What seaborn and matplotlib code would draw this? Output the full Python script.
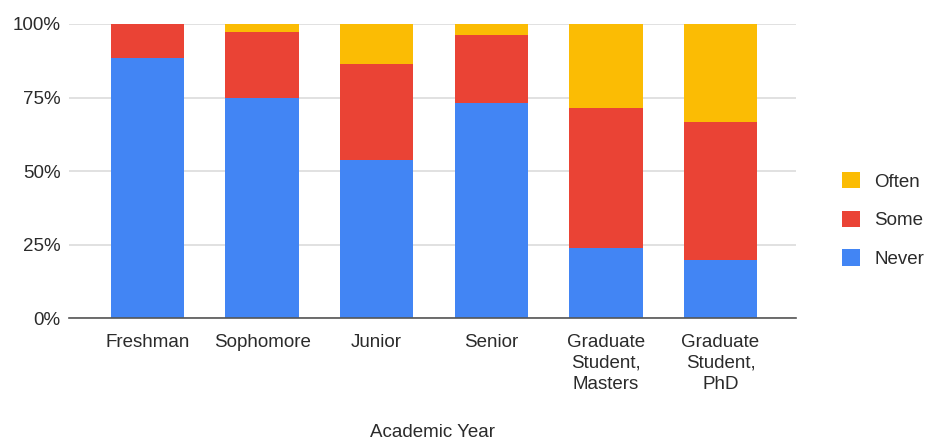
import matplotlib
matplotlib.use("Agg")
import matplotlib.pyplot as plt
from matplotlib.patches import Patch
import numpy as np
import pandas as pd
import seaborn as sns

# Share of respondents (%) per academic year
years = ["Freshman", "Sophomore", "Junior", "Senior",
         "Graduate\nStudent,\nMasters", "Graduate\nStudent,\nPhD"]
never = [88.5, 75.0, 53.8, 73.1, 23.8, 20.0]
some = [11.5, 22.2, 32.7, 23.1, 47.6, 46.7]
often = [0.0, 2.8, 13.5, 3.8, 28.6, 33.3]

series = ["Never", "Some", "Often"]
colors = {"Never": "#4285F4", "Some": "#EA4335", "Often": "#FBBC04"}

sns.set_theme(style="white")
plt.rcParams["font.family"] = ["Liberation Sans", "DejaVu Sans"]

FS = 13.5
TXT = "#2b2b2b"

df = pd.DataFrame({"year": years, "Never": never, "Some": some, "Often": often})
# cumulative tops for stacking
df["top_Never"] = df["Never"]
df["top_Some"] = df["Never"] + df["Some"]
df["top_Often"] = df["top_Some"] + df["Often"]

fig = plt.figure(figsize=(9.25, 4.41), dpi=100)
ax = fig.add_axes([0.0746, 0.278, 0.786, 0.6676])

for s in ["Often", "Some", "Never"]:
    sns.barplot(data=df, x="year", y=f"top_{s}", color=colors[s],
                saturation=1, width=0.64, ax=ax, linewidth=0, zorder=3)

ax.set_xlim(-0.685, 5.66)
ax.set_ylim(0, 100)
ax.set_yticks([0, 25, 50, 75, 100])
ax.set_yticklabels(["0%", "25%", "50%", "75%", "100%"])
ax.grid(axis="y", color="#d9d9d9", linewidth=1.1, zorder=0)
ax.set_axisbelow(True)
for sp in ["left", "right", "top"]:
    ax.spines[sp].set_visible(False)
ax.spines["bottom"].set_color("#555555")
ax.spines["bottom"].set_linewidth(1.2)
ax.spines["bottom"].set_zorder(4)
ax.tick_params(axis="both", length=0, labelsize=FS, labelcolor=TXT)
ax.tick_params(axis="x", pad=11)
ax.tick_params(axis="y", pad=6)
for lbl in ax.get_xticklabels():
    lbl.set_linespacing(1.32)
ax.set_ylabel("")
ax.set_xlabel("Academic Year", fontsize=FS, color=TXT, labelpad=22)

handles = [Patch(facecolor=colors[s], edgecolor="none", label=s)
           for s in ["Often", "Some", "Never"]]
fig.legend(handles=handles, loc="center left", bbox_to_anchor=(0.892, 0.501),
           frameon=False, fontsize=FS, handlelength=0.96, handleheight=0.96,
           handletextpad=0.75, labelspacing=1.07, labelcolor=TXT)

fig.savefig("out.png", dpi=100)
